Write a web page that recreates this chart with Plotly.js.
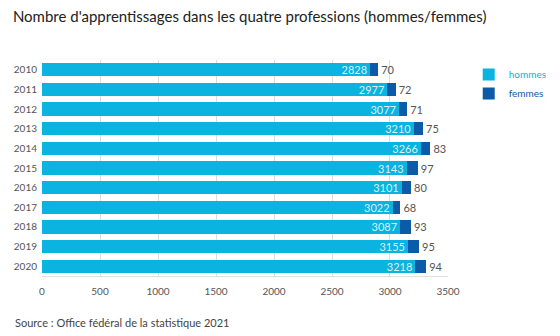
<!DOCTYPE html>
<html><head><meta charset="utf-8">
<script src="https://cdn.plot.ly/plotly-3.0.1.min.js"></script>
<style>html,body{margin:0;padding:0;background:#fff}</style>
</head><body><div id="chart" style="width:560px;height:336px"></div>
<script>
var years = ['2010','2011','2012','2013','2014','2015','2016','2017','2018','2019','2020'];
var hommes = [2828,2977,3077,3210,3266,3143,3101,3022,3087,3155,3218];
var femmes = [70,72,71,75,83,97,80,68,93,95,94];
var xTicks = [0,500,1000,1500,2000,2500,3000,3500];

var font = 'Lato, "Open Sans", sans-serif';
var traces = [
 {type:'bar', orientation:'h', name:'hommes', y:years, x:hommes,
  marker:{color:'#0bb3e0'}, text:hommes.map(String), textposition:'inside',
  insidetextanchor:'end', constraintext:'none',
  textfont:{color:'rgba(255,255,255,0.85)', size:11, family:font},
  hoverinfo:'x+name'},
 {type:'bar', orientation:'h', name:'femmes', y:years, x:femmes,
  marker:{color:'#0b5ba8'}, text:femmes.map(String), textposition:'outside',
  constraintext:'none', cliponaxis:false,
  textfont:{color:'#555', size:11, family:font},
  hoverinfo:'x+name'}
];
var layout = {
 width:560, height:336, barmode:'stack', bargap:0.32,
 margin:{l:42, r:10, t:60, b:60, autoexpand:false},
 paper_bgcolor:'#fff', plot_bgcolor:'#fff',
 font:{family:font, size:11, color:'#555'},
 title:{text:"Nombre d'apprentissages dans les quatre professions (hommes/femmes)",
   x:0.023, xanchor:'left', y:0.95, yanchor:'middle',
   font:{family:font, size:15, color:'#222'}},
 xaxis:{range:[0,3500], domain:[0,0.7992], tickvals:xTicks, ticktext:xTicks.map(String),
   showgrid:true, gridcolor:'#dcdcdc', gridwidth:1, zeroline:false,
   showline:true, linecolor:'#e0e0e0', mirror:false, ticklabelstandoff:6,
   tickfont:{size:10, color:'#555'}, ticks:'', ticklen:0},
 yaxis:{autorange:'reversed', type:'category', tickfont:{size:10, color:'#555'},
   ticks:'', showgrid:false, zeroline:false, showline:false, ticklabelstandoff:4},
 legend:{x:0.84, y:1.0, xanchor:'left', yanchor:'top', traceorder:'normal',
   font:{size:10, family:font}, itemwidth:30},
 showlegend:true,
 annotations:[{text:'Source : Office fédéral de la statistique 2021', xref:'paper', yref:'paper',
   x:-0.058, y:-0.213, xanchor:'left', yanchor:'middle', showarrow:false,
   font:{size:11, color:'#444', family:font}}]
};
Plotly.newPlot('chart', traces, layout, {displayModeBar:false, staticPlot:true}).then(function(){
  var items = document.querySelectorAll('.legend .traces text.legendtext');
  var cols = ['#0bb3e0','#0b5ba8'];
  items.forEach(function(t,i){ t.style.fill = cols[i]; });
});
</script></body></html>
